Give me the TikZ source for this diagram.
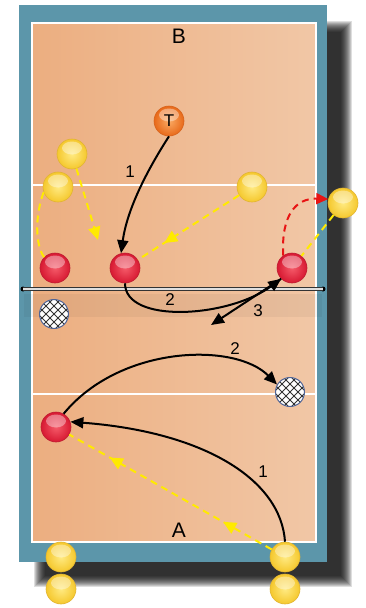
\documentclass[tikz,border=0pt]{standalone}
\usepackage{fontspec}
\setmainfont{Liberation Sans}
\usetikzlibrary{arrows.meta,decorations.markings}
\definecolor{frameblue}{RGB}{92,150,170}
\definecolor{courtL}{RGB}{236,174,128}
\definecolor{courtR}{RGB}{241,199,166}
\definecolor{yIn}{RGB}{255,234,130}
\definecolor{yOut}{RGB}{245,200,45}
\definecolor{yEdge}{RGB}{225,180,50}
\definecolor{rIn}{RGB}{245,90,105}
\definecolor{rOut}{RGB}{215,25,50}
\definecolor{rEdge}{RGB}{190,30,50}
\definecolor{oIn}{RGB}{250,170,100}
\definecolor{oOut}{RGB}{232,105,25}
\definecolor{oEdge}{RGB}{215,100,30}
\definecolor{dashY}{RGB}{255,234,0}
\definecolor{dashR}{RGB}{232,20,20}
\definecolor{netball}{RGB}{80,100,150}
\begin{document}
\begin{tikzpicture}[x=1pt,y=-1pt,
  font=\fontsize{17}{17}\selectfont,
  ballnode/.style n args={3}{circle,minimum size=30pt,inner sep=0pt,
    shade,inner color=#1,outer color=#2,draw=#3,line width=0.6pt,
    path picture={
      \fill[white,opacity=0.38] ([yshift=6pt]path picture bounding box.center) ellipse (10pt and 6.5pt);
    }},
  yb/.style={ballnode={yIn}{yOut}{yEdge}},
  rb/.style={ballnode={rIn}{rOut}{rEdge}},
  ob/.style={ballnode={oIn}{oOut}{oEdge}},
  nb/.style={circle,minimum size=29pt,inner sep=0pt,fill=white,draw=netball,line width=1pt,
    path picture={
      \foreach \k in {-16,-8,0,8,16}{
        \draw[black!80,line width=0.8pt] ([xshift=\k pt-20pt,yshift=-20pt]path picture bounding box.center) -- ++(40pt,40pt);
        \draw[black!80,line width=0.8pt] ([xshift=\k pt+20pt,yshift=-20pt]path picture bounding box.center) -- ++(-40pt,40pt);
      }}},
  netdot/.style={circle,fill=black,inner sep=0pt,minimum size=5pt},
  blk/.style={black,line width=2pt,-{Triangle[length=13pt,width=11pt]}},
  ydash/.style={dashY,line width=2pt,dash pattern=on 7pt off 5pt},
  rdash/.style={dashR,line width=2pt,dash pattern=on 7pt off 5pt,-{Triangle[length=12pt,width=11pt]}},
  yarrow/.style={-{Triangle[length=13pt,width=12pt]}},
  midarrow/.style={postaction={decorate},decoration={markings,
    mark=at position #1 with {\arrow{Triangle[length=13pt,width=12pt]}}}},
  twoarrows/.style 2 args={postaction={decorate},decoration={markings,
    mark=at position #1 with {\arrow{Triangle[length=13pt,width=12pt]}},
    mark=at position #2 with {\arrow{Triangle[length=13pt,width=12pt]}}}},
  lbl/.style={inner sep=0pt}
]
\useasboundingbox (0,0) rectangle (366,608);
% shadow
\foreach \i in {0,1,...,11}
  \fill[black,opacity=0.13] ({34+\i},{21+\i}) rectangle ({352-\i},{587-\i});
% frame and court
\fill[frameblue] (19,5) rectangle (327,562);
\shade[left color=courtL,right color=courtR] (32,23) rectangle (316,542);
\draw[white,line width=2.2pt] (32,23) rectangle (316,542);
\draw[white,line width=2pt] (32,185) -- (316,185);
\draw[white,line width=2pt] (32,394) -- (316,394);
% net shadow
\fill[black,opacity=0.045] (24,294) rectangle (322,317);
% net
\node[netdot] (nL) at (23,289) {};
\node[netdot] (nR) at (323,289) {};
\draw[black!80,line width=0.8pt,double=gray!25,double distance=2.6pt] (nL.center) -- (nR.center);
% labels
\node[lbl,font=\fontsize{21}{21}\selectfont] (lB) at (179,36) {B};
\node[lbl,font=\fontsize{21}{21}\selectfont] (lA) at (179,530) {A};
% players
\node[ob] (T) at (169,121) {T};
\node[yb] (y1) at (72,154) {};
\node[yb] (y2) at (58,187) {};
\node[yb] (y3) at (252,187) {};
\node[yb] (y4) at (343,203) {};
\node[rb] (r1) at (55,268) {};
\node[rb] (r2) at (125,268) {};
\node[rb] (r3) at (292,268) {};
\node[nb] (b1) at (54,314) {};
\node[rb] (r4) at (56,427) {};
\node[nb] (b2) at (290,392) {};
\node[yb] (y5) at (61,557) {};
\node[yb] (y6) at (61,589) {};
\node[yb] (y7) at (285,557) {};
\node[yb] (y8) at (285,589) {};
% free ends
\coordinate (e1) at (98,240);
\coordinate (e3) at (211,325);
% connectors top half
\draw[blk] (T.south) .. controls (146,172) and (127,210) .. (r2.105);
\draw[ydash,yarrow] (y1) -- (e1);
\draw[ydash] (y2.200) .. controls (35,215) and (35,245) .. (r1.135);
\draw[ydash,midarrow=0.74] (y3) -- (r2);
\draw[rdash] (r3.125) .. controls (281,215) and (296,198) .. (y4.165);
\draw[ydash] (y4) -- (r3);
\draw[blk] (r2.south) .. controls (125,324) and (228,318) .. (r3.225);
\draw[black,line width=2pt,-{Triangle[length=13pt,width=11pt]}] (r3.225) -- (e3);
\node[lbl] (l1a) at (130,172) {1};
\node[lbl] (l2a) at (170,300) {2};
\node[lbl] (l3) at (258,311) {3};
% connectors bottom half
\draw[blk] (r4.60) .. controls (120,345) and (235,342) .. (b2.150);
\draw[blk] (y7.north) .. controls (281,480) and (205,432) .. (r4.20);
\draw[ydash,twoarrows={0.24}{0.8}] (y7) -- (r4);
\node[lbl] (l2b) at (235,349) {2};
\node[lbl] (l1b) at (263,472) {1};
\end{tikzpicture}
\end{document}
